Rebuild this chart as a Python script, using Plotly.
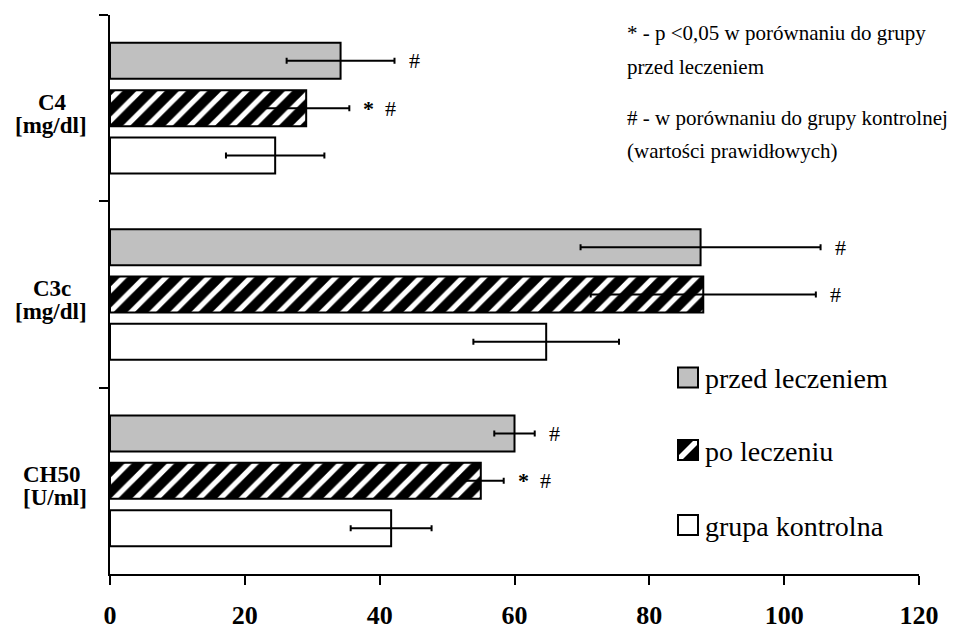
import plotly.graph_objects as go

# ---------------- data ----------------
categories = ["C4", "C3c", "CH50"]
units = ["[mg/dl]", "[mg/dl]", "[U/ml]"]

przed = [34.2, 87.6, 60.0]
przed_err = [8.0, 17.8, 3.0]
po = [29.1, 88.0, 55.0]
po_err = [6.4, 16.7, 3.4]
kontrola = [24.5, 64.7, 41.7]
kontrola_err = [7.3, 10.8, 6.0]

przed_sig = ["#", "#", "#"]
po_sig = ["<b>*</b>  #", "#", "<b>*</b>  #"]
kontrola_sig = ["", "", ""]

series_names = ["przed leczeniem", "po leczeniu", "grupa kontrolna"]
x_ticks = [0, 20, 40, 60, 80, 100, 120]

notes = ["* - p <0,05 w porównaniu do grupy", "przed leczeniem",
         "# - w porównaniu do grupy kontrolnej", "(wartości prawidłowych)"]

# ---------------- layout constants ----------------
W, H = 957, 629
ML, MR, MT, MB = 110, 38, 15, 55
PW, PH = W - ML - MR, H - MT - MB
SERIF = "Liberation Serif"
BARGAP, BARGROUPGAP = 0.238, 0.24
CAT_PX = PH / len(categories)
SLOT_PX = CAT_PX * (1 - BARGAP) / 3


def px_x(px):
    return (px - ML) / PW


def px_y(py):
    return 1 - (py - MT) / PH


line = dict(color="black", width=2)
markers = [
    dict(color="#c0c0c0", line=line),
    dict(color="black", line=line,
         pattern=dict(shape="/", fgcolor="white", bgcolor="black", size=15,
                      solidity=0.35, fillmode="replace")),
    dict(color="white", line=line),
]
vals = [przed, po, kontrola]
errs = [przed_err, po_err, kontrola_err]
sigs = [przed_sig, po_sig, kontrola_sig]

fig = go.Figure()
for name, v, e, m in zip(series_names, vals, errs, markers):
    fig.add_trace(go.Bar(
        y=categories, x=v, orientation="h", name=name, marker=m,
        error_x=dict(type="data", array=e, color="black", thickness=2, width=3),
        showlegend=False,
    ))

annotations = []
# significance markers
for i, (v, e, s) in enumerate(zip(vals, errs, sigs)):
    for cat, val, err, txt in zip(categories, v, e, s):
        if not txt:
            continue
        annotations.append(dict(
            x=val + err, y=cat, xref="x", yref="y", text=txt, showarrow=False,
            xanchor="left", yanchor="middle", xshift=12, yshift=(1 - i) * SLOT_PX,
            font=dict(family=SERIF, size=22, color="black")))

# category labels
for cat, unit in zip(categories, units):
    annotations.append(dict(
        x=0, y=cat, xref="paper", yref="y", text="<b>%s</b>" % cat, showarrow=False,
        xanchor="center", yanchor="middle", xshift=-58, yshift=6,
        font=dict(family=SERIF, size=23, color="black")))
    annotations.append(dict(
        x=0, y=cat, xref="paper", yref="y", text="<b>%s</b>" % unit, showarrow=False,
        xanchor="right", yanchor="middle", xshift=-21, yshift=-17,
        font=dict(family=SERIF, size=23, color="black")))

# notes (top right)
for txt, py in zip(notes, [33, 67, 118, 151]):
    annotations.append(dict(
        x=px_x(625), y=px_y(py), xref="paper", yref="paper", text=txt,
        showarrow=False, xanchor="left", yanchor="middle",
        font=dict(family=SERIF, size=21, color="black")))

# manual legend
shapes = []
leg_y = [377.5, 450, 525]
fills = ["#c0c0c0", "black", "white"]
for name, py, fc in zip(series_names, leg_y, fills):
    x0, x1 = 678, 698
    y0, y1 = py - 10, py + 10
    shapes.append(dict(type="rect", xref="paper", yref="paper",
                       x0=px_x(x0), x1=px_x(x1), y0=px_y(y1), y1=px_y(y0),
                       fillcolor=fc, line=dict(width=0)))
    if fc == "black":
        pts = [(0, 16), (16, 0), (20, 0), (20, 4), (4, 20), (0, 20)]
        path = "M " + " L ".join("%f,%f" % (px_x(x0 + a), px_y(y0 + b)) for a, b in pts) + " Z"
        shapes.append(dict(type="path", xref="paper", yref="paper", path=path,
                           fillcolor="white", line=dict(width=0)))
    shapes.append(dict(type="rect", xref="paper", yref="paper",
                       x0=px_x(x0), x1=px_x(x1), y0=px_y(y1), y1=px_y(y0),
                       fillcolor="rgba(0,0,0,0)", line=dict(color="black", width=2)))
    annotations.append(dict(
        x=px_x(703), y=px_y(py + 1), xref="paper", yref="paper", text=name,
        showarrow=False, xanchor="left", yanchor="middle",
        font=dict(family=SERIF, size=28, color="black")))

fig.update_layout(
    width=W, height=H, margin=dict(l=ML, r=MR, t=MT, b=MB, pad=0, autoexpand=False),
    paper_bgcolor="white", plot_bgcolor="white",
    barmode="group", bargap=BARGAP, bargroupgap=BARGROUPGAP,
    annotations=annotations, shapes=shapes, showlegend=False,
    xaxis=dict(range=[0, 120], tickvals=x_ticks, ticks="outside", ticklen=9,
               tickwidth=2, tickcolor="black", showline=True, linewidth=2,
               linecolor="black", showgrid=False, zeroline=False,
               automargin=False,
               tickfont=dict(family=SERIF, size=26, color="black", weight="bold"),
               ticklabelstandoff=8),
    yaxis=dict(categoryorder="array", categoryarray=categories,
               autorange="reversed", ticks="outside", tickson="boundaries",
               ticklen=9, tickwidth=2, tickcolor="black", showline=True,
               linewidth=2, linecolor="black", showgrid=False,
               automargin=False, showticklabels=False),
    font=dict(family=SERIF, color="black"),
)

fig.write_html("out.html")
